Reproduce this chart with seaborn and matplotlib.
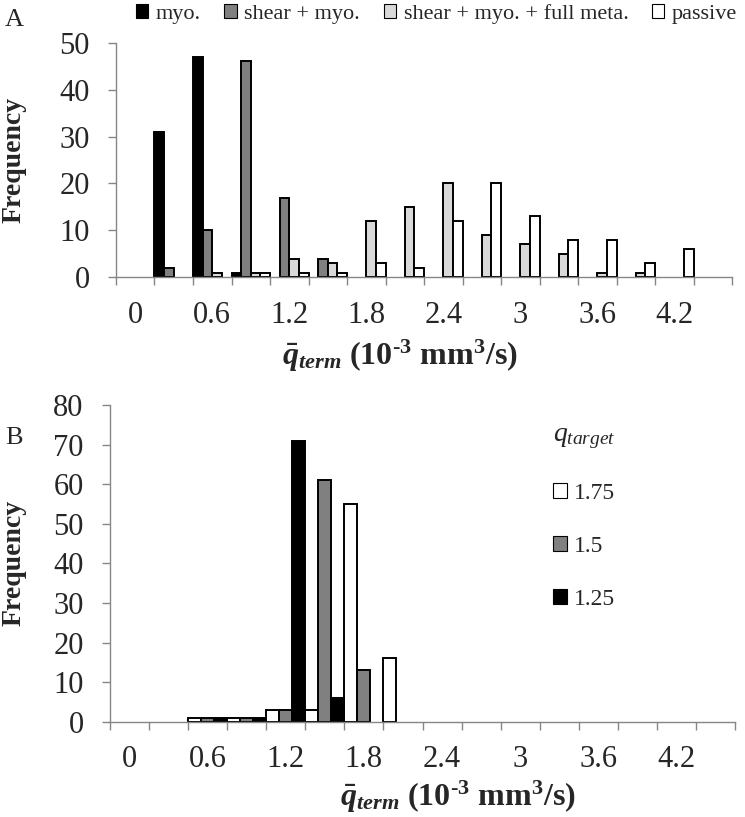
import numpy as np
import pandas as pd
import matplotlib.pyplot as plt
from matplotlib.patches import Patch
import seaborn as sns

# categories (bin starts, 10^-3 mm^3/s) and the labels shown under every other bin
bins = ['0', '0.3', '0.6', '0.9', '1.2', '1.5', '1.8', '2.1',
        '2.4', '2.7', '3', '3.3', '3.6', '3.9', '4.2', '4.5']
tick_labels = ['0', '0.6', '1.2', '1.8', '2.4', '3', '3.6', '4.2']

# panel A
a_names = ['myo.', 'shear + myo.', 'shear + myo. + full meta.', 'passive']
a_myo = [0, 31, 47, 1, 0, 0, 0, 0, 0, 0, 0, 0, 0, 0, 0, 0]
a_shear = [0, 2, 10, 46, 17, 4, 0, 0, 0, 0, 0, 0, 0, 0, 0, 0]
a_meta = [0, 0, 1, 1, 4, 3, 12, 15, 20, 9, 7, 5, 1, 1, 0, 0]
a_passive = [0, 0, 0, 1, 1, 1, 3, 2, 12, 20, 13, 8, 8, 3, 6, 0]
a_colors = ['#000000', '#808080', '#d9d9d9', '#ffffff']

# panel B
b_names = ['1.75', '1.5', '1.25']
b_175 = [0, 0, 1, 1, 3, 3, 55, 16, 0, 0, 0, 0, 0, 0, 0, 0]
b_150 = [0, 0, 1, 1, 3, 61, 13, 0, 0, 0, 0, 0, 0, 0, 0, 0]
b_125 = [0, 0, 1, 1, 71, 6, 0, 0, 0, 0, 0, 0, 0, 0, 0, 0]
b_colors = ['#ffffff', '#808080', '#000000']

sns.set_style('white')
plt.rcParams['font.family'] = ['Liberation Serif', 'DejaVu Serif']
plt.rcParams['mathtext.fontset'] = 'custom'
plt.rcParams['mathtext.rm'] = 'Liberation Serif:bold'
plt.rcParams['mathtext.it'] = 'Liberation Serif:italic'
plt.rcParams['mathtext.bf'] = 'Liberation Serif:italic:bold'

axis_gray = '#868686'
xlab = r'$\bar{\mathbf{q}}_{\mathbf{term}}$ (10$^{\mathrm{\text{-}3}}$ mm$^{3}$/s)'


def long_df(names, values):
    rows = []
    for name, vals in zip(names, values):
        for b, v in zip(bins, vals):
            if v > 0:
                rows.append({'bin': b, 'series': name, 'count': v})
    return pd.DataFrame(rows)


def draw(ax, names, values, colors, ymax):
    df = long_df(names, values)
    sns.barplot(data=df, x='bin', y='count', hue='series', order=bins,
                hue_order=names, palette=dict(zip(names, colors)),
                width=1.0, gap=0, saturation=1, edgecolor='black',
                linewidth=1.4, legend=False, ax=ax)
    ax.set_xlim(-0.5, len(bins) - 0.5)
    ax.set_ylim(0, ymax)
    ax.set_yticks(np.arange(0, ymax + 1, 10))
    ax.set_xticks(np.arange(-0.5, len(bins), 1.0))
    ax.set_xticklabels([])
    ax.set_xticks(np.arange(0, len(bins), 2), minor=True)
    ax.set_xticklabels(tick_labels, minor=True)
    ax.tick_params(axis='x', which='major', direction='out', length=6,
                   width=1, color=axis_gray, bottom=True)
    ax.tick_params(axis='x', which='minor', length=0, pad=17, labelsize=22)
    ax.tick_params(axis='y', direction='out', length=6, width=1,
                   color=axis_gray, left=True, pad=13, labelsize=22)
    for s in ['top', 'right']:
        ax.spines[s].set_visible(False)
    for s in ['left', 'bottom']:
        ax.spines[s].set_color(axis_gray)
        ax.spines[s].set_linewidth(1)
    ax.set_ylabel('Frequency', fontsize=20, fontweight='bold')
    ax.set_xlabel(xlab, fontsize=23, fontweight='bold')


fig = plt.figure(figsize=(7.45, 8.17), dpi=100)
ax_a = fig.add_axes([0.1557, 0.6606, 0.8269, 0.2871])
ax_b = fig.add_axes([0.1477, 0.1166, 0.8389, 0.3877])

draw(ax_a, a_names, [a_myo, a_shear, a_meta, a_passive], a_colors, 50)
draw(ax_b, b_names, [b_175, b_150, b_125], b_colors, 80)

ax_a.yaxis.set_label_coords(-0.145, 0.5)
ax_a.xaxis.set_label_coords(0.461, -0.26)
ax_b.yaxis.set_label_coords(-0.133, 0.5)
ax_b.xaxis.set_label_coords(0.557, -0.18)

fig.text(0.007, 1 - 20 / 817, 'A', fontsize=19, va='center')
fig.text(0.007, 1 - 438 / 817, 'B', fontsize=19, va='center')

a_handles = [Patch(facecolor=c, edgecolor='black', linewidth=0.8) for c in a_colors]
fig.legend(a_handles, a_names, loc='center left',
           bbox_to_anchor=(136 / 745, 1 - 14 / 817), ncol=4, frameon=False,
           fontsize=16, handlelength=0.55, handleheight=0.55,
           handletextpad=0.35, columnspacing=1.05, borderpad=0, borderaxespad=0)

b_handles = [Patch(facecolor=c, edgecolor='black', linewidth=0.8) for c in b_colors]
fig.legend(b_handles, b_names, loc='upper left',
           bbox_to_anchor=(553 / 745, 1 - 422 / 817), frameon=False,
           fontsize=17, title=r'$q_{target}$', title_fontsize=20,
           alignment='left', handlelength=0.6, handleheight=0.6,
           handletextpad=0.3, labelspacing=1.35, borderpad=0,
           borderaxespad=0)

fig.savefig('out.png', dpi=100)
